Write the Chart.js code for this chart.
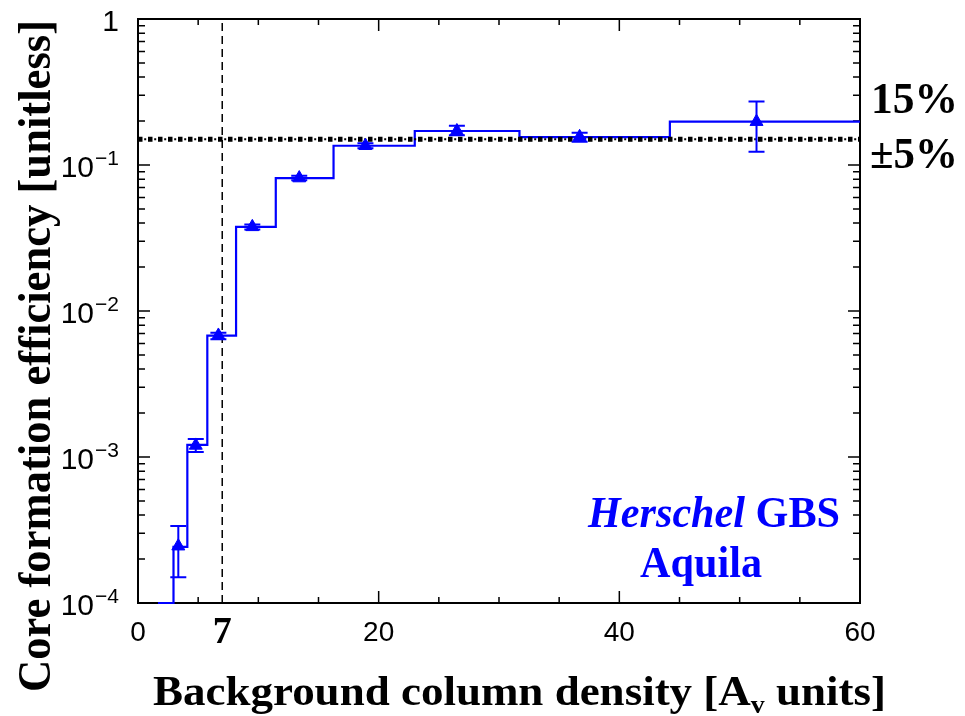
<!DOCTYPE html>
<html><head><meta charset="utf-8">
<script src="https://cdn.jsdelivr.net/npm/chart.js@4.4.0/dist/chart.umd.min.js"></script>
<style>html,body{margin:0;padding:0;background:#fff;}#wrap{width:965px;height:716px;position:relative;}</style>
</head><body><div id="wrap"><canvas id="c" width="965" height="716"></canvas></div>
<script>
// ---- data ----
const stepEdges  = [1.66, 2.95, 4.1, 5.76, 8.15, 11.45, 16.25, 23.0, 31.7, 44.2, 60];
const stepValues = [1e-4, 2.42e-4, 1.21e-3, 6.78e-3, 0.0377, 0.0814, 0.1355, 0.171, 0.155, 0.198];
const pointX  = [3.35, 4.8, 6.68, 9.5, 13.4, 18.9, 26.5, 36.7, 51.4];
const pointY  = [2.45e-4, 1.2e-3, 6.8e-3, 0.0377, 0.0814, 0.1355, 0.171, 0.156, 0.198];
const errLow  = [1.5e-4, 1.08e-3, 6.4e-3, 0.0362, 0.0785, 0.130, 0.160, 0.1445, 0.123];
const errHigh = [3.37e-4, 1.33e-3, 7.1e-3, 0.0392, 0.0845, 0.141, 0.186, 0.166, 0.272];
const xTickValues = [0, 7, 20, 40, 60];
const xTickLabels = ['0', '7', '20', '40', '60'];
const yTickValues = [1e-4, 1e-3, 1e-2, 1e-1, 1];
const yTickBases  = ['10', '10', '10', '10', '1'];
const yTickExps   = ['\u22124', '\u22123', '\u22122', '\u22121', ''];
const cfeLevel = 0.15;
const thresholdAv = 7;
const xRange = [0, 60];
const yRange = [1e-4, 1];

const BLUE = '#0000ff';
const stepData = stepEdges.map((x, i) => ({x: x, y: stepValues[Math.min(i, stepValues.length - 1)]}));
const pointData = pointX.map((x, i) => ({x: x, y: pointY[i]}));

function drawFit(ctx, parts, x, baseline, targetW) {
  let w = 0;
  parts.forEach(p => { ctx.font = p.font; p.w = ctx.measureText(p.text).width; w += p.w; });
  const s = targetW / w;
  ctx.save();
  ctx.translate(x, baseline);
  ctx.scale(s, 1);
  let cx = 0;
  parts.forEach(p => {
    ctx.font = p.font; ctx.fillStyle = p.color || '#000';
    ctx.textAlign = 'left'; ctx.textBaseline = 'alphabetic';
    ctx.fillText(p.text, cx, p.dy || 0);
    cx += p.w;
  });
  ctx.restore();
}

const framePlugin = {
  id: 'frame',
  beforeDatasetsDraw(chart) {
    const {ctx, chartArea: a} = chart;
    ctx.save();
    ctx.strokeStyle = '#000'; ctx.lineWidth = 2;
    ctx.strokeRect(a.left, a.top, a.right - a.left, a.bottom - a.top);
    const xs = chart.scales.x, ys = chart.scales.y;
    ctx.lineWidth = 1.5;
    ctx.beginPath();
    for (let v = xRange[0]; v <= xRange[1]; v += 5) {
      const px = xs.getPixelForValue(v);
      const len = (v % 20 === 0) ? 12 : 6;
      ctx.moveTo(px, a.bottom); ctx.lineTo(px, a.bottom - len);
      ctx.moveTo(px, a.top); ctx.lineTo(px, a.top + len);
    }
    for (let d = -4; d <= 0; d++) {
      for (let m = 1; m <= 9; m++) {
        const v = m * Math.pow(10, d);
        if (v > 1.0001) break;
        const py = ys.getPixelForValue(v);
        const len = (m === 1) ? 12 : 7;
        ctx.moveTo(a.left, py); ctx.lineTo(a.left + len, py);
        ctx.moveTo(a.right, py); ctx.lineTo(a.right - len, py);
      }
    }
    ctx.stroke();
    ctx.restore();
  },
  afterDatasetsDraw(chart) {
    const {ctx} = chart;
    const xs = chart.scales.x, ys = chart.scales.y;
    ctx.save();
    ctx.strokeStyle = BLUE; ctx.lineWidth = 2;
    ctx.beginPath();
    pointX.forEach((x, i) => {
      const px = xs.getPixelForValue(x);
      const t = ys.getPixelForValue(errHigh[i]);
      const b = ys.getPixelForValue(errLow[i]);
      ctx.moveTo(px, t); ctx.lineTo(px, b);
      ctx.moveTo(px - 8, t); ctx.lineTo(px + 8, t);
      ctx.moveTo(px - 8, b); ctx.lineTo(px + 8, b);
    });
    ctx.stroke();
    ctx.restore();
  },
  afterDraw(chart) {
    const {ctx} = chart;
    const ys = chart.scales.y;
    ctx.save();
    ctx.fillStyle = '#000';
    ctx.textBaseline = 'alphabetic';
    const right = 119;
    yTickValues.forEach((v, i) => {
      const py = ys.getPixelForValue(v);
      ctx.font = '21px "Liberation Sans"';
      const ew = yTickExps[i] ? ctx.measureText(yTickExps[i]).width : 0;
      if (yTickExps[i]) { ctx.textAlign = 'right'; ctx.fillText(yTickExps[i], right, py); }
      ctx.font = '30px "Liberation Sans"';
      ctx.textAlign = 'right';
      ctx.fillText(yTickBases[i], right - ew - (ew ? 1 : 0), py + 12);
    });
    ctx.restore();
    drawFit(ctx, [
      {text: 'Background column density [A', font: 'bold 42px "Liberation Serif"'},
      {text: 'v', font: 'bold 26px "Liberation Serif"', dy: 8},
      {text: ' units]', font: 'bold 42px "Liberation Serif"'}
    ], 153, 705, 733);
    ctx.save();
    ctx.translate(50, 692);
    ctx.rotate(-Math.PI / 2);
    drawFit(ctx, [{text: 'Core formation efficiency [unitless]', font: 'bold 47px "Liberation Serif"'}], 0, 0, 672);
    ctx.restore();
    drawFit(ctx, [{text: '15%', font: 'bold 45px "Liberation Serif"'}], 871, 113, 87);
    drawFit(ctx, [{text: '\u00b15%', font: 'bold 45px "Liberation Serif"'}], 870, 168, 88);
    drawFit(ctx, [
      {text: 'Herschel', font: 'italic bold 44px "Liberation Serif"', color: BLUE},
      {text: ' GBS', font: 'bold 44px "Liberation Serif"', color: BLUE}
    ], 588, 527, 252);
    drawFit(ctx, [{text: 'Aquila', font: 'bold 44px "Liberation Serif"', color: BLUE}], 640, 577, 122);
  }
};

new Chart(document.getElementById('c'), {
  type: 'line',
  data: {
    datasets: [
      {label: 'cores', data: pointData, showLine: false, pointStyle: 'triangle', pointRadius: 7.5,
       pointBackgroundColor: BLUE, pointBorderColor: BLUE, pointBorderWidth: 1, order: 0},
      {label: '15%', data: [{x: xRange[0], y: cfeLevel}, {x: xRange[1], y: cfeLevel}], borderColor: '#000',
       borderWidth: 5, borderDash: [4.5, 5.5], borderCapStyle: 'butt', pointRadius: 0, order: 1},
      {label: '15% b', data: [{x: xRange[0], y: cfeLevel}, {x: xRange[1], y: cfeLevel}], borderColor: '#000',
       borderWidth: 2, borderDash: [2, 8], borderDashOffset: -6.2, borderCapStyle: 'butt', pointRadius: 0, order: 1},
      {label: 'CFE', data: stepData, stepped: 'before', borderColor: BLUE, borderWidth: 2.2,
       pointRadius: 0, clip: false, order: 2},
      {label: 'threshold', data: [{x: thresholdAv, y: yRange[0]}, {x: thresholdAv, y: yRange[1]}], borderColor: '#000',
       borderWidth: 1.5, borderDash: [8, 5], pointRadius: 0, order: 3}
    ]
  },
  options: {
    responsive: false,
    devicePixelRatio: 1,
    animation: false,
    layout: {padding: {left: 0, top: 19, right: 105, bottom: 0}},
    plugins: {legend: {display: false}, tooltip: {enabled: false}},
    scales: {
      x: {
        type: 'linear', min: xRange[0], max: xRange[1],
        grid: {display: false, drawTicks: false}, border: {display: false},
        afterBuildTicks: s => { s.ticks = xTickValues.map(v => ({value: v})); },
        afterFit: s => { s.height = 113; },
        ticks: {
          autoSkip: false, maxRotation: 0, padding: 13, color: '#000',
          callback: (v, i) => xTickLabels[i],
          font: c => (c.tick && c.tick.value === thresholdAv)
            ? {family: '"Liberation Serif"', weight: 'bold', size: 38, lineHeight: 0.9}
            : {family: '"Liberation Sans"', size: 28, lineHeight: 1.2}
        }
      },
      y: {
        type: 'logarithmic', min: yRange[0], max: yRange[1],
        grid: {display: false, drawTicks: false}, border: {display: false},
        ticks: {display: false},
        afterFit: s => { s.width = 138; }
      }
    }
  },
  plugins: [framePlugin]
});
</script>
</body></html>
